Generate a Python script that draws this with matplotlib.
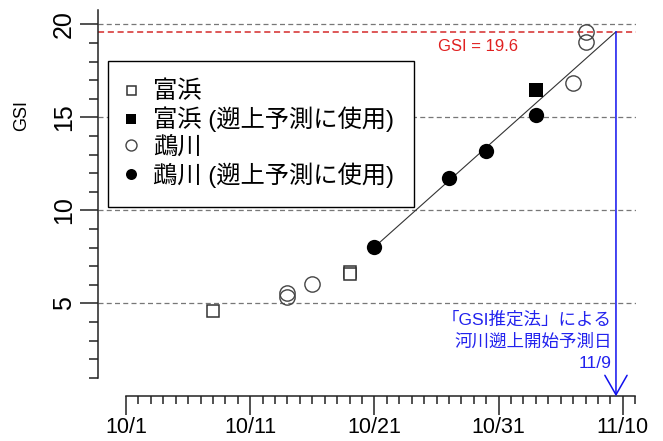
import datetime
import numpy as np
import matplotlib
matplotlib.use('Agg')
import matplotlib.pyplot as plt

plt.rcParams['font.family'] = ['Liberation Sans', 'Noto Sans CJK JP', 'DejaVu Sans']

# 富浜 / 鵡川 の GSI 観測値 (月/日)
tomi_dates = ['10/8', '10/19', '10/19']
tomi_gsi = [4.59, 6.67, 6.60]
tomi_used_dates = ['11/3']
tomi_used_gsi = [16.47]
mu_dates = ['10/14', '10/14', '10/16', '11/6', '11/7', '11/7']
mu_gsi = [5.54, 5.32, 6.02, 16.86, 19.60, 19.06]
mu_used_dates = ['10/21', '10/27', '10/30', '11/3']
mu_used_gsi = [8.01, 11.72, 13.20, 15.12]

gsi_threshold = 19.6
xtick_dates = ['10/1', '10/11', '10/21', '10/31', '11/10']
start = datetime.date(2000, 10, 1)


def to_day(s):
    m, d = [int(v) for v in s.split('/')]
    return (datetime.date(2000, m, d) - start).days


def days(lst):
    return np.array([to_day(s) for s in lst])


fig = plt.figure(figsize=(6.63, 4.41), dpi=100)
ax = fig.add_axes([98.3 / 663, 1 - 396.3 / 441, 537.7 / 663, 386.3 / 441])
ax.set_xlim(-2.23, 41.06)
ax.set_ylim(0, 20.77)

# dashed reference lines
for yv in [5, 10, 15, 20]:
    ax.axhline(yv, color='#777777', lw=0.9, ls=(0, (4, 2.6)), zorder=1)
ax.axhline(gsi_threshold, color='#d42a2a', lw=1.1, ls=(0, (4, 2.4)), zorder=1)

# regression on the points used for the prediction
fx = np.concatenate([days(mu_used_dates), days(tomi_used_dates)])
fy = np.concatenate([mu_used_gsi, tomi_used_gsi])
slope, icpt = np.polyfit(fx, fy, 1)
x_cross = (gsi_threshold - icpt) / slope
xl = np.array([fx.min(), x_cross])
ax.plot(xl, slope * xl + icpt, color='#333333', lw=0.8, zorder=2)

ax.plot(days(tomi_dates), tomi_gsi, 's', ms=9, mfc='white', mec='#333333',
        mew=1.1, ls='none', label='富浜', zorder=3)
ax.plot(days(tomi_used_dates), tomi_used_gsi, 's', ms=10.5, mfc='black',
        mec='black', mew=0, ls='none', label='富浜 (遡上予測に使用)', zorder=3)
ax.plot(days(mu_dates), mu_gsi, 'o', ms=11, mfc='none', mec='#444444',
        mew=1.0, ls='none', label='鵡川', zorder=3)
ax.plot(days(mu_used_dates), mu_used_gsi, 'o', ms=11, mfc='black',
        mec='black', mew=0, ls='none', label='鵡川 (遡上予測に使用)', zorder=3)

# predicted date arrow
ax.annotate('', xy=(x_cross, 0), xytext=(x_cross, gsi_threshold),
            arrowprops=dict(arrowstyle='->,head_length=1.4,head_width=0.8',
                            color='#1010ee', lw=1.1, mutation_scale=10,
                            shrinkA=0, shrinkB=0), zorder=4)
ax.annotate('「GSI推定法」による\n河川遡上開始予測日\n11/9',
            xy=(x_cross, 5), xytext=(-3, -5.5), textcoords='offset points',
            ha='right', va='top', color='#2222ee', fontsize=12.6,
            linespacing=1.5)
ax.text(28.3, gsi_threshold - 0.8, f'GSI = {gsi_threshold}', color='#e02020',
        fontsize=12, ha='center', va='center')

leg = ax.legend(loc='upper left', bbox_to_anchor=(0.0186, 0.8688),
                borderaxespad=0, fontsize=17.5, frameon=True, fancybox=False,
                edgecolor='black', framealpha=1, borderpad=0.82,
                handlelength=0.2, handletextpad=0.81, labelspacing=0.15,
                markerscale=0.72)
leg.get_frame().set_linewidth(1.0)

# R-style detached axes
for s in ['top', 'right']:
    ax.spines[s].set_visible(False)
ax.spines['left'].set_bounds(1, 20.77)
ax.spines['bottom'].set_bounds(0, 41)
for s in ['left', 'bottom']:
    ax.spines[s].set_linewidth(1.1)
    ax.spines[s].set_color('#222222')

ax.set_xticks([to_day(s) for s in xtick_dates])
ax.set_xticklabels(xtick_dates, fontsize=15.5)
ax.set_xticks(np.arange(0, 42), minor=True)
ax.set_yticks([5, 10, 15, 20])
ax.set_yticklabels(['5', '10', '15', '20'], fontsize=18, rotation=90,
                   va='center')
ax.set_yticks(np.arange(1, 21), minor=True)
ax.tick_params(axis='x', which='major', length=14, width=1.1, pad=1,
               color='#222222')
ax.tick_params(axis='x', which='minor', length=6, width=1.1, color='#222222')
ax.tick_params(axis='y', which='major', length=13, width=1.1, pad=3,
               color='#222222')
ax.tick_params(axis='y', which='minor', length=6.5, width=1.1,
               color='#222222')

fig.text(21.5 / 663, 1 - 116 / 441, 'GSI', rotation=90, fontsize=13,
         ha='center', va='center')

fig.savefig('out.png', dpi=100)
